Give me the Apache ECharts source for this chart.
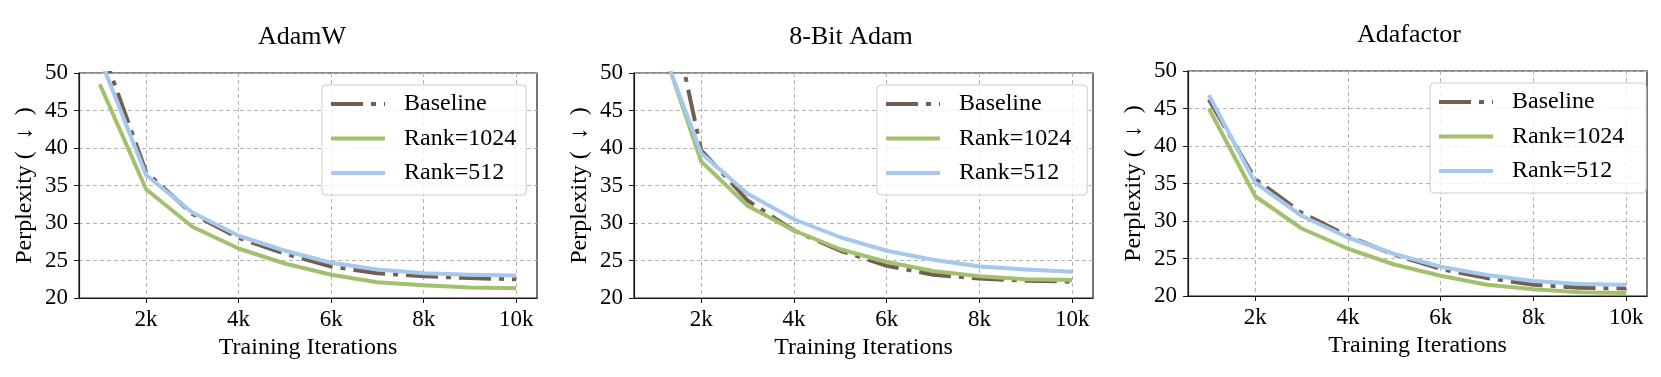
<!DOCTYPE html>
<html>
<head>
<meta charset="utf-8">
<script src="https://cdn.jsdelivr.net/npm/echarts@6/dist/echarts.min.js"></script>
<style>
html,body{margin:0;padding:0;background:#fff;}
#chart{width:1661px;height:377px;}
</style>
</head>
<body>
<div id="chart"></div>
<script>
// ---- data ----
const iterations = [1000, 2000, 3000, 4000, 5000, 6000, 7000, 8000, 9000, 10000];
const xTickValues = [2000, 4000, 6000, 8000, 10000];
const xTickLabels = ['2k', '4k', '6k', '8k', '10k'];
const yTickLabels = ['20', '25', '30', '35', '40', '45', '50'];
const panelTitles = ['AdamW', '8-Bit Adam', 'Adafactor'];
const seriesNames = ['Baseline', 'Rank=1024', 'Rank=512'];

const adamwBaseline = [54.0, 36.8, 31.2, 28.0, 25.9, 24.2, 23.3, 22.9, 22.65, 22.5];
const adamwRank1024 = [48.5, 34.5, 29.5, 26.6, 24.6, 23.1, 22.1, 21.7, 21.4, 21.3];
const adamwRank512 = [52.0, 36.4, 31.4, 28.3, 26.3, 24.7, 23.8, 23.3, 23.1, 23.0];

const eightBitBaseline = [68.5, 39.7, 33.0, 29.0, 26.3, 24.3, 23.1, 22.6, 22.3, 22.2];
const eightBitRank1024 = [56.4, 38.2, 32.3, 29.0, 26.5, 24.8, 23.6, 22.9, 22.5, 22.4];
const eightBitRank512 = [55.8, 39.3, 33.9, 30.5, 28.1, 26.3, 25.1, 24.2, 23.8, 23.5];

const adafactorBaseline = [46.2, 35.6, 31.1, 28.0, 25.5, 23.6, 22.4, 21.5, 21.1, 21.0];
const adafactorRank1024 = [45.0, 33.3, 29.0, 26.3, 24.2, 22.7, 21.5, 20.9, 20.5, 20.4];
const adafactorRank512 = [46.8, 35.1, 30.7, 27.8, 25.6, 23.9, 22.8, 22.0, 21.6, 21.5];

// ---- styling / layout ----
const FONT = "'Liberation Serif', 'Times New Roman', serif";
const colors = ['#735f52', '#a3c06f', '#a5c8ec'];
const lineTypes = [[32, 8, 5, 8], 'solid', 'solid'];
const panelData = [
  [adamwBaseline, adamwRank1024, adamwRank512],
  [eightBitBaseline, eightBitRank1024, eightBitRank512],
  [adafactorBaseline, adafactorRank1024, adafactorRank512]
];
const grids = [
  {left: 79, top: 73, width: 458, height: 225},
  {left: 634, top: 73, width: 459, height: 225},
  {left: 1188, top: 71, width: 459, height: 225}
];
const titleCenters = [302, 851, 1409];
const legendPos = [{left: 322, top: 85}, {left: 877, top: 85}, {left: 1430, top: 83}];

const chart = echarts.init(document.getElementById('chart'), null, {renderer: 'canvas'});

const option = {
  backgroundColor: '#ffffff',
  animation: false,
  title: panelTitles.map((t, i) => ({
    text: t,
    left: titleCenters[i],
    top: grids[i].top - 49,
    textAlign: 'center',
    padding: 0,
    textStyle: {fontFamily: FONT, fontSize: 26, fontWeight: 'normal', color: '#000'}
  })),
  grid: grids.map(g => ({
    left: g.left, top: g.top, width: g.width, height: g.height,
    show: true, borderColor: '#1a1a1a', borderWidth: 1.2, backgroundColor: 'transparent',
    containLabel: false
  })),
  legend: panelTitles.map((t, i) => ({
    data: seriesNames.map(n => n + ' '.repeat(i)),
    orient: 'vertical',
    left: legendPos[i].left,
    top: legendPos[i].top,
    itemWidth: 54,
    itemHeight: 14,
    itemGap: 10.5,
    padding: [7, 10, 10, 7],
    backgroundColor: 'rgba(255,255,255,0.8)',
    borderColor: '#cccccc',
    borderWidth: 1,
    borderRadius: 4,
    itemStyle: {color: 'rgba(0,0,0,0)', opacity: 0, borderWidth: 0},
    lineStyle: {width: 4},
    textStyle: {fontFamily: FONT, fontSize: 24, color: '#000', lineHeight: 24, padding: [0, 0, 0, 14]}
  })),
  xAxis: grids.map((g, i) => ({
    type: 'value',
    gridIndex: i,
    min: 550,
    max: 10450,
    name: 'Training Iterations',
    nameLocation: 'middle',
    nameGap: 38,
    nameTextStyle: {fontFamily: FONT, fontSize: 24, color: '#000'},
    axisLine: {show: true, onZero: false, lineStyle: {color: '#1a1a1a', width: 1.2}},
    axisTick: {show: true, length: 5, customValues: xTickValues, lineStyle: {color: '#1a1a1a', width: 1}},
    axisLabel: {
      customValues: xTickValues,
      margin: 10,
      fontFamily: FONT, fontSize: 23, color: '#000',
      formatter: v => xTickLabels[xTickValues.indexOf(v)]
    },
    splitLine: {show: true, lineStyle: {color: '#b3b3b3', width: 1, type: [4, 3]}}
  })),
  yAxis: grids.map((g, i) => ({
    type: 'value',
    gridIndex: i,
    min: 20,
    max: 50,
    interval: 5,
    name: 'Perplexity (  ↓  )',
    nameLocation: 'middle',
    nameGap: 42,
    nameTextStyle: {fontFamily: FONT, fontSize: 24, color: '#000'},
    axisLine: {show: true, lineStyle: {color: '#1a1a1a', width: 1.2}},
    axisTick: {show: true, length: 5, lineStyle: {color: '#1a1a1a', width: 1}},
    axisLabel: {
      margin: 11,
      fontFamily: FONT, fontSize: 23, color: '#000',
      formatter: v => yTickLabels[Math.round((v - 20) / 5)]
    },
    splitLine: {show: true, lineStyle: {color: '#b3b3b3', width: 1, type: [4, 3]}}
  })),
  series: []
};

panelData.forEach((arrs, p) => {
  arrs.forEach((vals, s) => {
    option.series.push({
      type: 'line',
      name: seriesNames[s] + ' '.repeat(p),
      xAxisIndex: p,
      yAxisIndex: p,
      data: iterations.map((x, k) => [x, vals[k]]),
      symbol: 'none',
      showSymbol: false,
      clip: true,
      z: 2 + s,
      lineStyle: {color: colors[s], width: 4, type: lineTypes[s], join: 'round', cap: 'butt'},
      itemStyle: {color: colors[s]},
      emphasis: {disabled: true}
    });
  });
});

chart.setOption(option);
</script>
</body>
</html>
